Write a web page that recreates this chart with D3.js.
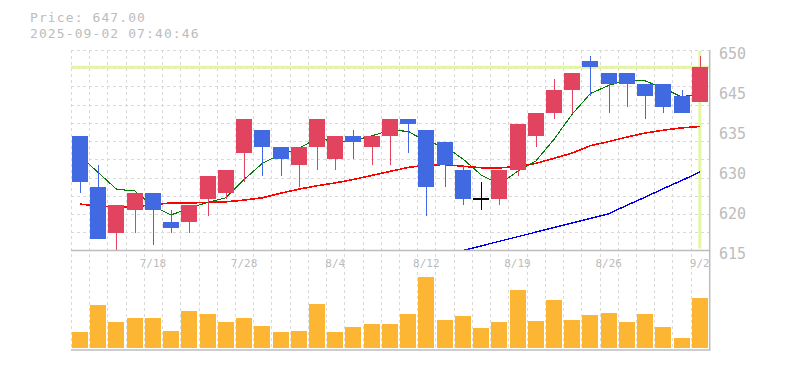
<!DOCTYPE html>
<html><head><meta charset="utf-8">
<script src="https://cdn.jsdelivr.net/npm/d3@7/dist/d3.min.js"></script>
<style>
html,body{margin:0;padding:0;background:#fff;}
svg{display:block;}
</style></head>
<body>
<svg id="chart" width="785" height="370"></svg>
<script>
const dates = ["7/14","7/15","7/16","7/17","7/18","7/22","7/23","7/24","7/25","7/28","7/29","7/30","7/31","8/1","8/4","8/5","8/6","8/7","8/8","8/12","8/13","8/14","8/15","8/18","8/19","8/20","8/21","8/22","8/25","8/26","8/27","8/28","8/29","9/1","9/2"];
const open  = [635,626,618,622,625,620,620,624,625,632,636,633,630,633,631,635,633,635,638,636,634,629,624,624,629,635,639,643,648,646,646,644,644,642,641];
const high  = [635,630,623,625,625,622,623,628,629,638,636,633,633,638,635,636,635,638,638,636,634,630,627,629,637,639,645,646,649,646,646,644,644,643,649];
const low   = [625,617,615,618,616,618,618,621,624,627,628,628,626,629,629,631,630,630,632,621,626,623,622,623,628,633,638,639,642,639,640,638,639,639,641];
const close = [627,617,623,625,622,619,623,628,629,638,633,631,633,638,635,634,635,638,637,626,630,624,624,629,637,639,643,646,647,644,644,642,640,639,647];
const volume = [16300,43300,26300,30300,30300,17300,37300,34300,26300,30300,22300,16300,17300,44300,16300,21300,24300,24300,34300,71300,28300,32300,20300,26300,58300,27300,48300,28300,33300,35300,26300,34300,21300,10300,50300];
const ma5  = [631.5,628.6,625.7,625.4,622.8,621.2,622.4,623.4,624.2,627.4,630.2,631.8,632.8,634.6,634.0,634.2,635.0,636.0,635.8,634.0,633.2,631.0,628.2,626.6,628.8,630.6,634.4,638.8,642.4,643.8,644.8,644.6,643.4,641.8,642.4];
const ma25 = [623.1,622.8,622.55,622.65,623.0,623.3,623.3,623.4,623.5,623.8,624.2,625.0,625.7,626.3,626.8,627.4,628.1,628.8,629.5,629.9,630.0,629.7,629.45,629.4,629.7,630.2,631.1,632.0,633.3,634.0,634.8,635.5,636.0,636.4,636.65];
const ma75 = [null,null,null,null,null,null,null,null,null,null,null,null,null,null,null,null,null,null,null,null,614.2,615.0,615.8,616.6,617.4,618.2,619.0,619.8,620.6,621.4,622.9,624.3,625.8,627.2,628.7];
const xTickIdx = [4,9,14,19,24,29,34];
const yTickValues = [650,643,636,629,622,615];
const yTickLabels = ["650","645","635","630","620","615"];
const currentPrice = 647.00;
const timestamp = "2025-09-02 07:40:46";

const svg = d3.select("#chart");
const L = 70.9, R = 708.9, PT = 50, PB = 250.5, VT = 250.5, VB = 350;
const x = d3.scaleBand().domain(d3.range(dates.length)).range([L, R]).padding(0);
const y = d3.scaleLinear().domain([615, 650]).range([PB, PT]);
const yv = d3.scaleLinear().domain([0, 100000]).range([348, 248]);
const cx = i => x(i) + x.bandwidth() / 2;
const bw = 16;

const gridColor = "#d9d9d9";
const grid = svg.append("g").attr("shape-rendering", "crispEdges");
d3.range(dates.length).forEach(i => {
  grid.append("line").attr("x1", Math.round(x(i)) + 0.5).attr("x2", Math.round(x(i)) + 0.5)
    .attr("y1", PT).attr("y2", VB).attr("stroke", gridColor).attr("stroke-dasharray", "3,3");
});
d3.range(11).forEach(k => {
  const v = 615 + (k + 1) * 35 / 11;
  grid.append("line").attr("x1", L).attr("x2", R).attr("y1", Math.round(y(v)) + 0.5).attr("y2", Math.round(y(v)) + 0.5)
    .attr("stroke", gridColor).attr("stroke-dasharray", "3,3");
});

svg.append("defs").append("clipPath").attr("id", "clipP")
  .append("rect").attr("x", L).attr("y", PT).attr("width", R - L).attr("height", PB - PT);

const lime = "#e4f5a4";
svg.append("line").attr("x1", L).attr("x2", R + 1).attr("y1", y(currentPrice)).attr("y2", y(currentPrice))
  .attr("stroke", lime).attr("stroke-width", 3);
svg.append("line").attr("x1", cx(dates.length - 1)).attr("x2", cx(dates.length - 1)).attr("y1", PT + 1).attr("y2", PB - 2)
  .attr("stroke", lime).attr("stroke-width", 3);

const lineG = svg.append("g").attr("clip-path", "url(#clipP)");
function maLine(arr, color, w) {
  const gen = d3.line().defined(d => d != null).x((d, i) => cx(i)).y(d => y(d));
  lineG.append("path").attr("d", gen(arr)).attr("fill", "none").attr("stroke", color)
    .attr("stroke-width", w).attr("shape-rendering", "crispEdges");
}
maLine(ma75, "#0000ee", 1.4);
maLine(ma25, "#ff0000", 1.6);
maLine(ma5, "#007a00", 1.1);

const upC = "#e2435f", downC = "#4169e1";
const cg = svg.append("g").attr("shape-rendering", "crispEdges");
dates.forEach((d, i) => {
  const o = open[i], c = close[i];
  const col = c > o ? upC : (c < o ? downC : "#000");
  cg.append("line").attr("x1", Math.round(cx(i)) + 0.5).attr("x2", Math.round(cx(i)) + 0.5)
    .attr("y1", y(high[i])).attr("y2", y(low[i])).attr("stroke", col).attr("stroke-width", 1.5);
  if (c === o) {
    cg.append("line").attr("x1", cx(i) - bw / 2).attr("x2", cx(i) + bw / 2)
      .attr("y1", y(c)).attr("y2", y(c)).attr("stroke", col).attr("stroke-width", 1.5);
  } else {
    cg.append("rect").attr("x", cx(i) - bw / 2).attr("width", bw)
      .attr("y", y(Math.max(o, c))).attr("height", y(Math.min(o, c)) - y(Math.max(o, c)))
      .attr("fill", col);
  }
});

svg.append("g").attr("shape-rendering", "crispEdges").selectAll("rect").data(volume).join("rect")
  .attr("x", (v, i) => cx(i) - bw / 2).attr("width", bw)
  .attr("y", v => yv(v)).attr("height", v => yv(0) - yv(v)).attr("fill", "#fcb634");

const axisCol = "#bcbcbc";
svg.append("line").attr("x1", L).attr("x2", R + 1.5).attr("y1", PB).attr("y2", PB).attr("stroke", axisCol).attr("stroke-width", 1.5);
svg.append("line").attr("x1", L).attr("x2", R + 1.5).attr("y1", VB).attr("y2", VB).attr("stroke", axisCol).attr("stroke-width", 1.5);
svg.append("line").attr("x1", R + 0.8).attr("x2", R + 0.8).attr("y1", PT).attr("y2", VB).attr("stroke", axisCol).attr("stroke-width", 1.5);

const yAxis = d3.axisRight(y).tickValues(yTickValues).tickFormat((v, k) => yTickLabels[k]).tickSize(0).tickPadding(10);
const ya = svg.append("g").attr("transform", `translate(${R},0)`).call(yAxis);
ya.select(".domain").remove();
ya.selectAll("text").attr("x", 10).attr("dy", "8").attr("fill", "#bcbcbc")
  .attr("font-family", "DejaVu Sans Mono, monospace").attr("font-size", 15);

const xAxis = d3.axisBottom(x).tickValues(xTickIdx).tickFormat(i => dates[i]).tickSize(0);
const xa = svg.append("g").attr("transform", `translate(0,${PB})`).call(xAxis);
xa.select(".domain").remove();
xa.selectAll("text").attr("y", 16).attr("dy", 0).attr("fill", "#bcbcbc")
  .attr("font-family", "DejaVu Sans Mono, monospace").attr("font-size", 11);

svg.append("text").attr("x", 30).attr("y", 22).attr("fill", "#bcbcbc")
  .attr("font-family", "DejaVu Sans Mono, monospace").attr("font-size", 13).attr("letter-spacing", 1.1)
  .text("Price: " + currentPrice.toFixed(2));
svg.append("text").attr("x", 30).attr("y", 37.7).attr("fill", "#bcbcbc")
  .attr("font-family", "DejaVu Sans Mono, monospace").attr("font-size", 13).attr("letter-spacing", 1.1)
  .text(timestamp);
</script>
</body></html>
